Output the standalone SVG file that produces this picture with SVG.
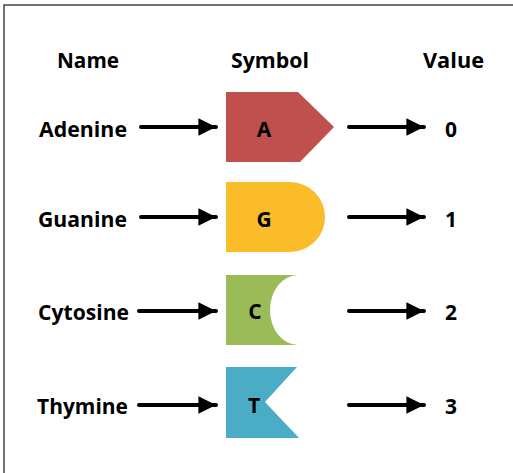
<svg xmlns="http://www.w3.org/2000/svg" width="513" height="473" viewBox="0 0 513 473">
  <defs>
    <marker id="head" viewBox="0 0 10 10" refX="10" refY="5" markerWidth="4.6" markerHeight="4.4" markerUnits="strokeWidth" orient="auto">
      <path d="M0,0 L10,5 L0,10 Z" fill="#000"/>
    </marker>
    <style>
      text { font-family: "Open Sans", "Liberation Sans", Arial, sans-serif; font-weight: bold; font-size: 21px; fill: #000; }
      .sym { text-anchor: middle; }
      .conn { stroke: #000; stroke-width: 4; stroke-linecap: round; fill: none; marker-end: url(#head); }
    </style>
  </defs>

  <rect width="513" height="473" fill="#fff"/>
  <!-- frame -->
  <path d="M4,473 V5 H513" fill="none" stroke="#444" stroke-width="1.5"/>

  <!-- column headers -->
  <g id="headers">
    <text x="57" y="68" textLength="62" lengthAdjust="spacingAndGlyphs">Name</text>
    <text x="231" y="68" textLength="78" lengthAdjust="spacingAndGlyphs">Symbol</text>
    <text x="423" y="68" textLength="61" lengthAdjust="spacingAndGlyphs">Value</text>
  </g>

  <!-- names -->
  <g id="names">
    <text x="39" y="137" textLength="88" lengthAdjust="spacingAndGlyphs">Adenine</text>
    <text x="38" y="227" textLength="89" lengthAdjust="spacingAndGlyphs">Guanine</text>
    <text x="38" y="320" textLength="91" lengthAdjust="spacingAndGlyphs">Cytosine</text>
    <text x="37" y="414" textLength="91" lengthAdjust="spacingAndGlyphs">Thymine</text>
  </g>

  <!-- symbols -->
  <g id="sym-A">
    <path d="M226,92 H298 L334,127 L300,162 H226 Z" fill="#C0504D"/>
    <text class="sym" x="264" y="137">A</text>
  </g>
  <g id="sym-G">
    <path d="M226,182 H290 A35,35 0 0 1 290,252 H226 Z" fill="#FBBC2A"/>
    <text class="sym" x="264" y="227">G</text>
  </g>
  <g id="sym-C">
    <path d="M226,275 H298 A28,35 0 0 0 298,345 H226 Z" fill="#9BBB59"/>
    <text class="sym" x="255" y="319">C</text>
  </g>
  <g id="sym-T">
    <path d="M226,367 H297 L265,402 L299,438 H226 Z" fill="#4BACC6"/>
    <text class="sym" x="254" y="413">T</text>
  </g>

  <!-- values -->
  <g id="values">
    <text x="445" y="137">0</text>
    <text x="445" y="227">1</text>
    <text x="445" y="320">2</text>
    <text x="445" y="414">3</text>
  </g>

  <!-- connectors -->
  <g id="connectors">
    <line class="conn" x1="141" y1="127" x2="216" y2="127"/>
    <line class="conn" x1="141" y1="217" x2="216" y2="217"/>
    <line class="conn" x1="139" y1="311" x2="216" y2="311"/>
    <line class="conn" x1="139" y1="405" x2="216" y2="405"/>
    <line class="conn" x1="349" y1="127" x2="424" y2="127"/>
    <line class="conn" x1="349" y1="217" x2="424" y2="217"/>
    <line class="conn" x1="349" y1="311" x2="424" y2="311"/>
    <line class="conn" x1="349" y1="405" x2="424" y2="405"/>
  </g>
</svg>
